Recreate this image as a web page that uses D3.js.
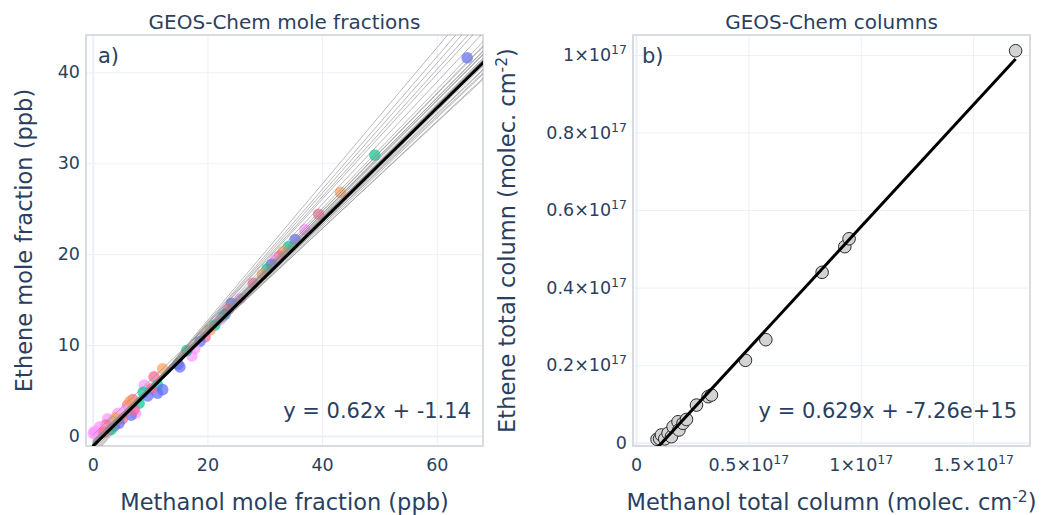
<!DOCTYPE html>
<html>
<head>
<meta charset="utf-8">
<script src="https://cdn.jsdelivr.net/npm/d3@7"></script>
<style>
  body { margin: 0; background: #fff; }
  svg { font-family: "DejaVu Sans", sans-serif; }
</style>
</head>
<body>
<svg id="chart" width="1043" height="515"></svg>
<script>
// ---- a) GEOS-Chem mole fractions (ppb) ----
const molMethanol = [65.3, 49.2, 43.2, 39.4, 37.0, 35.3, 34.1, 33.2, 32.5, 31.8, 31.2, 30.4, 29.6, 28.0,
  25.7, 24.2, 23.6, 23.1, 22.6, 22.2, 21.3, 20.5, 19.6, 18.7, 17.8, 17.3, 16.4, 15.2, 14.9,
  12.2, 10.7, 9.0, 11.3, 12.2, 11.3, 10.2, 7.0, 6.1, 8.1, 7.5, 6.7, 5.8, 4.4, 5.2, 4.6, 3.5,
  3.8, 3.2, 2.6, 2.3, 1.7, 1.2, 0.3, 0.1, 0.6, 2.0, 4.0, 6.5, 8.8, 9.6, 7.2];
const molEthene = [41.6, 30.9, 26.8, 24.4, 22.7, 21.6, 20.8, 20.3, 19.8, 19.4, 18.9, 18.4, 17.8, 16.8,
  15.1, 14.6, 13.9, 13.4, 13.1, 12.8, 12.2, 11.7, 10.9, 10.4, 9.6, 8.8, 9.4, 7.6, 7.9,
  7.4, 6.5, 5.6, 5.6, 5.1, 4.7, 5.2, 4.0, 3.4, 3.6, 2.5, 2.3, 2.9, 2.5, 1.9, 1.4, 1.6,
  1.1, 0.7, 1.9, 1.2, 0.5, 1.0, 0.5, 0.3, 0.2, 0.4, 2.0, 3.8, 4.8, 4.4, 2.9];
const molGroup = [0, 1, 2, 3, 4, 0, 1, 2, 3, 4, 0, 1, 2, 3,
  4, 0, 3, 0, 1, 4, 1, 2, 3, 0, 4, 4, 1, 0, 0,
  2, 3, 4, 1, 0, 0, 3, 3, 3, 1, 4, 0, 4, 4, 3, 0, 1,
  0, 1, 4, 3, 2, 4, 4, 4, 4, 3, 2, 2, 1, 0, 3];
const groupColors = ['#636efa', '#00cc96', '#ffa15a', '#ff6692', '#ff97ff'];

// fits for the individual groups (grey) and for all points (black)
const fitSlope = [0.585, 0.59, 0.594, 0.598, 0.60, 0.603, 0.606, 0.609, 0.612, 0.614, 0.616, 0.618, 0.62,
  0.621, 0.623, 0.625, 0.627, 0.629, 0.632, 0.636, 0.64, 0.645, 0.65, 0.655, 0.672, 0.688, 0.70, 0.715,
  0.73, 0.75];
const fitIntercept = [-0.6, -0.8, -0.5, -0.9, 0.1, -0.7, -1.0, -0.6, -0.8, -1.1, -0.9, -0.7, -0.9,
  -1.2, -1.0, -1.2, -1.1, -0.8, -1.1, -1.0, -1.2, -1.1, -1.3, -1.2, -1.4, -1.5, -1.7, -1.9,
  -2.1, -2.3];
const molSlope = 0.62, molIntercept = -1.14;

// ---- b) GEOS-Chem columns (molec. cm-2) ----
const colMethanol = [0.0935e17, 0.105e17, 0.113e17, 0.128e17, 0.1425e17, 0.1576e17, 0.165e17, 0.187e17,
  0.191e17, 0.209e17, 0.2245e17, 0.269e17, 0.3206e17, 0.3357e17, 0.487e17, 0.5775e17, 0.828e17,
  0.929e17, 0.948e17, 1.689e17];
const colEthene = [0.0088e17, 0.0105e17, 0.0199e17, 0.010e17, 0.0242e17, 0.0155e17, 0.0413e17, 0.054e17,
  0.0328e17, 0.050e17, 0.060e17, 0.097e17, 0.1187e17, 0.123e17, 0.2125e17, 0.2657e17, 0.4395e17,
  0.5056e17, 0.526e17, 1.011e17];
const colSlope = 0.629, colIntercept = -7.26e15;

const xTicksA = [0, 20, 40, 60];
const yTicksA = [0, 10, 20, 30, 40];
const xTicksB = [0, 0.5e17, 1e17, 1.5e17];
const yTicksB = [0, 0.2e17, 0.4e17, 0.6e17, 0.8e17, 1e17];

const textColor = '#2a3f5f';
const gridColor = '#ebf0f8';
const frameColor = '#d8dbe1';
const fontFamily = '"DejaVu Sans", sans-serif';

const svg = d3.select('#chart');
svg.append('rect').attr('width', 1043).attr('height', 515).attr('fill', '#fff');

function makePanel(id, box, xDomain, yDomain) {
  const x = d3.scaleLinear().domain(xDomain).range([box.left, box.right]);
  const y = d3.scaleLinear().domain(yDomain).range([box.bottom, box.top]);
  const g = svg.append('g').attr('class', 'panel-' + id);
  g.append('clipPath').attr('id', 'clip-' + id)
    .append('rect')
    .attr('x', box.left).attr('y', box.top)
    .attr('width', box.right - box.left).attr('height', box.bottom - box.top);
  return { id, x, y, g, box };
}

// tick label, plain or "m×10^17"
function setLabel(sel, v, sci) {
  sel.text(null);
  if (!sci || v === 0) { sel.text(d3.format('~g')(v)); return; }
  sel.append('tspan').text(d3.format('.2~g')(v / 1e17) + '×10');
  sel.append('tspan').attr('dy', -7).attr('font-size', 12.5).text('17');
}

function drawAxes(p, xTicks, yTicks, sci) {
  const { g, x, y, box } = p;
  const h = box.bottom - box.top, w = box.right - box.left;

  // grid lines
  g.append('g')
    .attr('transform', `translate(0,${box.bottom})`)
    .call(d3.axisBottom(x).tickValues(xTicks).tickSize(-h).tickFormat(''))
    .call(a => a.select('.domain').remove())
    .call(a => a.selectAll('line').attr('stroke', gridColor).attr('stroke-width', d => d === 0 ? 2 : 1));
  g.append('g')
    .attr('transform', `translate(${box.left},0)`)
    .call(d3.axisLeft(y).tickValues(yTicks).tickSize(-w).tickFormat(''))
    .call(a => a.select('.domain').remove())
    .call(a => a.selectAll('line').attr('stroke', gridColor).attr('stroke-width', d => d === 0 ? 2 : 1));

  // frame
  g.append('rect')
    .attr('x', box.left).attr('y', box.top).attr('width', w).attr('height', h)
    .attr('fill', 'none').attr('stroke', frameColor).attr('stroke-width', 2);

  // tick labels
  g.append('g')
    .attr('transform', `translate(0,${box.bottom})`)
    .call(d3.axisBottom(x).tickValues(xTicks).tickSize(0).tickPadding(12.5))
    .attr('font-family', fontFamily).attr('font-size', 17.5)
    .call(a => a.select('.domain').remove())
    .call(a => a.selectAll('text').attr('fill', textColor).each(function (d) { setLabel(d3.select(this), d, sci); }));
  g.append('g')
    .attr('transform', `translate(${box.left},0)`)
    .call(d3.axisLeft(y).tickValues(yTicks).tickSize(0).tickPadding(6))
    .attr('font-family', fontFamily).attr('font-size', 17.5)
    .call(a => a.select('.domain').remove())
    .call(a => a.selectAll('text').attr('fill', textColor).each(function (d) { setLabel(d3.select(this), d, sci); }));
}

function addText(p, opts) {
  const t = p.g.append('text')
    .attr('x', opts.x).attr('y', opts.y)
    .attr('fill', textColor)
    .attr('font-size', opts.size)
    .attr('text-anchor', opts.anchor || 'start')
    .text(opts.text);
  if (opts.rotate) t.attr('transform', `rotate(-90,${opts.x},${opts.y})`);
  return t;
}

// ---------- panel a ----------
const pa = makePanel('a', { left: 86, right: 483, top: 35, bottom: 446 }, [-1.168, 68.06], [-1.1, 44.11]);
drawAxes(pa, xTicksA, yTicksA, false);

const plotA = pa.g.append('g').attr('clip-path', 'url(#clip-a)');
plotA.selectAll('circle')
  .data(molMethanol.map((v, i) => ({ x: v, y: molEthene[i], c: molGroup[i] })))
  .join('circle')
  .attr('cx', d => pa.x(d.x))
  .attr('cy', d => pa.y(d.y))
  .attr('r', 5.8)
  .attr('fill', d => groupColors[d.c])
  .attr('fill-opacity', 0.72);

const lineXA = [0, 72];
plotA.selectAll('line.fit')
  .data(fitSlope.map((s, i) => ({ s, b: fitIntercept[i] })))
  .join('line')
  .attr('class', 'fit')
  .attr('x1', pa.x(lineXA[0])).attr('x2', pa.x(lineXA[1]))
  .attr('y1', d => pa.y(d.s * lineXA[0] + d.b))
  .attr('y2', d => pa.y(d.s * lineXA[1] + d.b))
  .attr('stroke', '#8a8a8a').attr('stroke-width', 0.8).attr('stroke-opacity', 0.75);

plotA.append('line')
  .attr('x1', pa.x(lineXA[0])).attr('x2', pa.x(lineXA[1]))
  .attr('y1', pa.y(molSlope * lineXA[0] + molIntercept))
  .attr('y2', pa.y(molSlope * lineXA[1] + molIntercept))
  .attr('stroke', '#000').attr('stroke-width', 3);

addText(pa, { x: 284.5, y: 29, size: 20, anchor: 'middle', text: 'GEOS-Chem mole fractions' });
addText(pa, { x: 284.5, y: 509.5, size: 22.5, anchor: 'middle', text: 'Methanol mole fraction (ppb)' });
addText(pa, { x: 32, y: 240.5, size: 22.5, anchor: 'middle', rotate: true, text: 'Ethene mole fraction (ppb)' });
addText(pa, { x: 98, y: 63, size: 21, text: 'a)' });
addText(pa, { x: 471, y: 418, size: 21, anchor: 'end',
  text: `y = ${molSlope}x + ${molIntercept}` });

// ---------- panel b ----------
const pb = makePanel('b', { left: 633, right: 1030, top: 35, bottom: 446 }, [-0.0134e17, 1.753e17], [-0.0085e17, 1.0516e17]);
drawAxes(pb, xTicksB, yTicksB, true);

const plotB = pb.g.append('g').attr('clip-path', 'url(#clip-b)');
plotB.selectAll('circle')
  .data(colMethanol.map((v, i) => ({ x: v, y: colEthene[i] })))
  .join('circle')
  .attr('cx', d => pb.x(d.x))
  .attr('cy', d => pb.y(d.y))
  .attr('r', 6.3)
  .attr('fill', '#d3d3d3')
  .attr('stroke', '#2b2b2b').attr('stroke-width', 1);

const lineXB = d3.extent(colMethanol);
plotB.append('line')
  .attr('x1', pb.x(lineXB[0])).attr('x2', pb.x(lineXB[1]))
  .attr('y1', pb.y(colSlope * lineXB[0] + colIntercept))
  .attr('y2', pb.y(colSlope * lineXB[1] + colIntercept))
  .attr('stroke', '#000').attr('stroke-width', 3);

addText(pb, { x: 831.5, y: 29, size: 20, anchor: 'middle', text: 'GEOS-Chem columns' });
const xtB = addText(pb, { x: 831.5, y: 509.5, size: 22.5, anchor: 'middle', text: null });
xtB.append('tspan').text('Methanol total column (molec. cm');
xtB.append('tspan').attr('dy', -8).attr('font-size', 15.5).text('-2');
xtB.append('tspan').attr('dy', 8).text(')');
const ytB = addText(pb, { x: 514.5, y: 240.5, size: 22.5, anchor: 'middle', rotate: true, text: null });
ytB.append('tspan').text('Ethene total column (molec. cm');
ytB.append('tspan').attr('dy', -8).attr('font-size', 15.5).text('-2');
ytB.append('tspan').attr('dy', 8).text(')');
addText(pb, { x: 642, y: 63, size: 21, text: 'b)' });
addText(pb, { x: 1017, y: 418, size: 21, anchor: 'end',
  text: `y = ${colSlope}x + ${colIntercept.toExponential(2)}` });
</script>
</body>
</html>
